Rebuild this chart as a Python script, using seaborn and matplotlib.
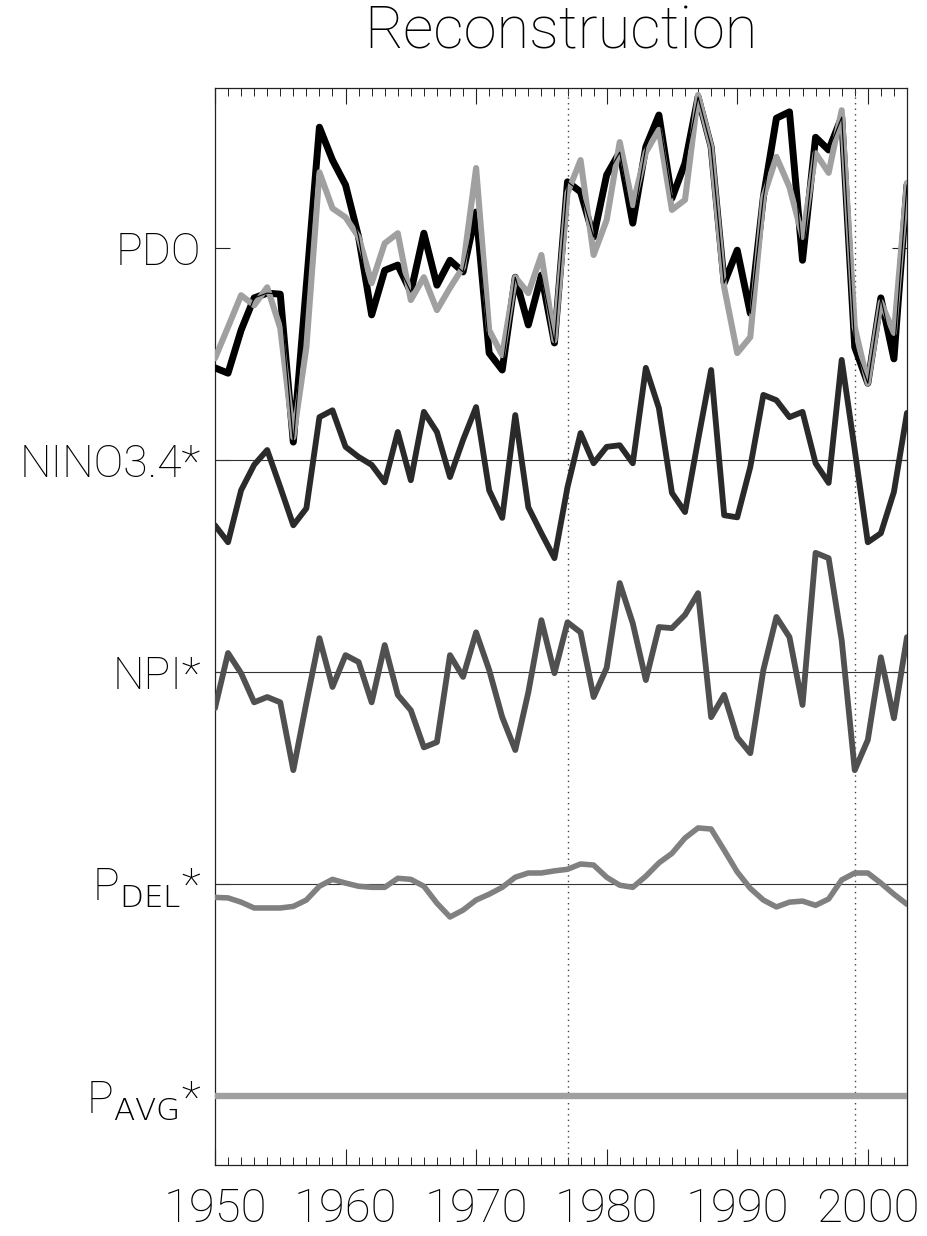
import numpy as np
import pandas as pd
import matplotlib
matplotlib.use("Agg")
import matplotlib.pyplot as plt
import seaborn as sns
from matplotlib.ticker import MultipleLocator

years = list(range(1950, 2004))

# PDO index (observed, black) and its reconstruction (grey), standardized units
pdo_obs = [-2.26, -2.36, -1.55, -0.94, -0.85, -0.87, -3.66, -0.70, 2.28, 1.66,
           1.19, 0.21, -1.26, -0.42, -0.32, -0.83, 0.28, -0.70, -0.23, -0.45,
           0.68, -1.98, -2.30, -0.55, -1.45, -0.51, -1.79, 1.25, 1.06, 0.21,
           1.38, 1.81, 0.47, 1.91, 2.51, 0.94, 1.60, 2.85, 1.91, -0.66,
           -0.04, -1.23, 0.96, 2.45, 2.57, -0.23, 2.09, 1.85, 2.47, -1.87,
           -2.55, -0.94, -2.09, 1.19]
pdo_rec = [-2.08, -1.49, -0.89, -1.08, -0.74, -1.51, -3.57, -1.87, 1.43, 0.75,
           0.58, 0.21, -0.66, 0.09, 0.28, -0.98, -0.55, -1.17, -0.75, -0.36,
           1.51, -1.55, -2.02, -0.55, -0.85, -0.13, -1.74, 1.04, 1.66, -0.13,
           0.53, 2.00, 0.81, 1.81, 2.23, 0.72, 0.91, 2.89, 1.91, -0.74,
           -1.98, -1.68, 0.96, 1.72, 1.15, 0.21, 1.79, 1.42, 2.60, -1.49,
           -2.55, -1.02, -1.60, 1.23]
nino34 = [-1.23, -1.55, -0.57, -0.09, 0.19, -0.51, -1.23, -0.91, 0.81, 0.94,
          0.25, 0.06, -0.09, -0.42, 0.53, -0.38, 0.91, 0.53, -0.32, 0.38,
          1.00, -0.57, -1.09, 0.85, -0.89, -1.38, -1.85, -0.51, 0.51, -0.06,
          0.25, 0.28, -0.06, 1.74, 0.98, -0.62, -0.98, 0.38, 1.70, -1.04,
          -1.08, -0.13, 1.23, 1.13, 0.81, 0.91, -0.06, -0.43, 1.89, 0.19,
          -1.55, -1.38, -0.60, 0.89]
npi = [-0.68, 0.36, -0.02, -0.57, -0.47, -0.57, -1.85, -0.58, 0.64, -0.28,
       0.32, 0.19, -0.57, 0.51, -0.43, -0.72, -1.42, -1.32, 0.32, -0.09,
       0.75, 0.04, -0.85, -1.47, -0.38, 0.98, -0.02, 0.94, 0.75, -0.47,
       0.08, 1.68, 0.92, -0.15, 0.85, 0.83, 1.08, 1.49, -0.85, -0.43,
       -1.23, -1.53, 0.04, 1.04, 0.66, -0.62, 2.25, 2.15, 0.60, -1.85,
       -1.28, 0.28, -0.87, 0.66]
p_del = [-0.25, -0.26, -0.34, -0.45, -0.45, -0.45, -0.42, -0.30, -0.04, 0.09,
         0.02, -0.04, -0.06, -0.06, 0.11, 0.09, -0.04, -0.36, -0.62, -0.49,
         -0.30, -0.19, -0.06, 0.13, 0.21, 0.21, 0.25, 0.28, 0.38, 0.36,
         0.13, -0.02, -0.06, 0.15, 0.40, 0.58, 0.87, 1.06, 1.04, 0.64,
         0.23, -0.08, -0.30, -0.43, -0.34, -0.32, -0.40, -0.28, 0.08, 0.21,
         0.21, 0.02, -0.19, -0.38]
p_avg = [0.0] * len(years)

row_labels = ["PDO", "NINO3.4*", "NPI*", r"P$_{\mathrm{DEL}}$*", r"P$_{\mathrm{AVG}}$*"]
regime_years = [1977, 1999]
row_step = 4.0

sns.set_theme(style="white")
plt.rcParams["font.family"] = ["Roboto", "DejaVu Sans"]
plt.rcParams["font.weight"] = "light"
plt.rcParams["mathtext.default"] = "regular"

fig = plt.figure(figsize=(9.27, 12.36), dpi=100)
ax = fig.add_axes([0.2319, 0.0574, 0.9784 - 0.2319, 0.9288 - 0.0574])

offsets = [-row_step * i for i in range(5)]
df = pd.DataFrame({
    "year": years,
    "pdo_obs": np.array(pdo_obs) + offsets[0],
    "pdo_rec": np.array(pdo_rec) + offsets[0],
    "nino34": np.array(nino34) + offsets[1],
    "npi": np.array(npi) + offsets[2],
    "p_del": np.array(p_del) + offsets[3],
    "p_avg": np.array(p_avg) + offsets[4],
})

# reference lines for the lower rows and the regime-shift markers
for off in offsets[1:]:
    ax.axhline(off, color="#333333", lw=0.8, zorder=1)
for yr in regime_years:
    ax.axvline(yr, color="#444444", lw=1.0, ls=(0, (1, 3)), zorder=1)

sns.lineplot(data=df, x="year", y="pdo_obs", ax=ax, color="black", lw=5.0, zorder=3)
sns.lineplot(data=df, x="year", y="pdo_rec", ax=ax, color="#a0a0a0", lw=4.4, zorder=4)
sns.lineplot(data=df, x="year", y="pdo_obs", ax=ax, color="black", lw=0.8, zorder=5)
sns.lineplot(data=df, x="year", y="nino34", ax=ax, color="#2a2a2a", lw=4.2, zorder=3)
sns.lineplot(data=df, x="year", y="npi", ax=ax, color="#505050", lw=4.2, zorder=3)
sns.lineplot(data=df, x="year", y="p_del", ax=ax, color="#808080", lw=4.0, zorder=3)
sns.lineplot(data=df, x="year", y="p_avg", ax=ax, color="#a0a0a0", lw=4.6, zorder=3)

ax.set_xlim(1950, 2003)
ax.set_ylim(-17.30, 3.02)
ax.xaxis.set_major_locator(MultipleLocator(10))
ax.xaxis.set_minor_locator(MultipleLocator(1))
ax.set_yticks(offsets)
ax.set_yticklabels(row_labels)
ax.tick_params(axis="x", which="major", direction="in", length=11.5, width=0.8,
               top=True, bottom=True, labelsize=34, pad=16, colors="#222222")
ax.tick_params(axis="x", which="minor", direction="in", length=6, width=0.7,
               top=True, bottom=True, colors="#222222")
ax.tick_params(axis="y", which="major", direction="in", length=11, width=0.8,
               left=True, right=True, labelsize=32, pad=10, colors="#222222")
for lab in ax.get_xticklabels() + ax.get_yticklabels():
    lab.set_color("black")
for s in ax.spines.values():
    s.set_color("#222222")
    s.set_linewidth(0.9)
ax.set_xlabel("")
ax.set_ylabel("")
fig.text(0.605, 0.974, "Reconstruction", ha="center", va="center", fontsize=43,
         color="black")

fig.savefig("out.png", dpi=100)
